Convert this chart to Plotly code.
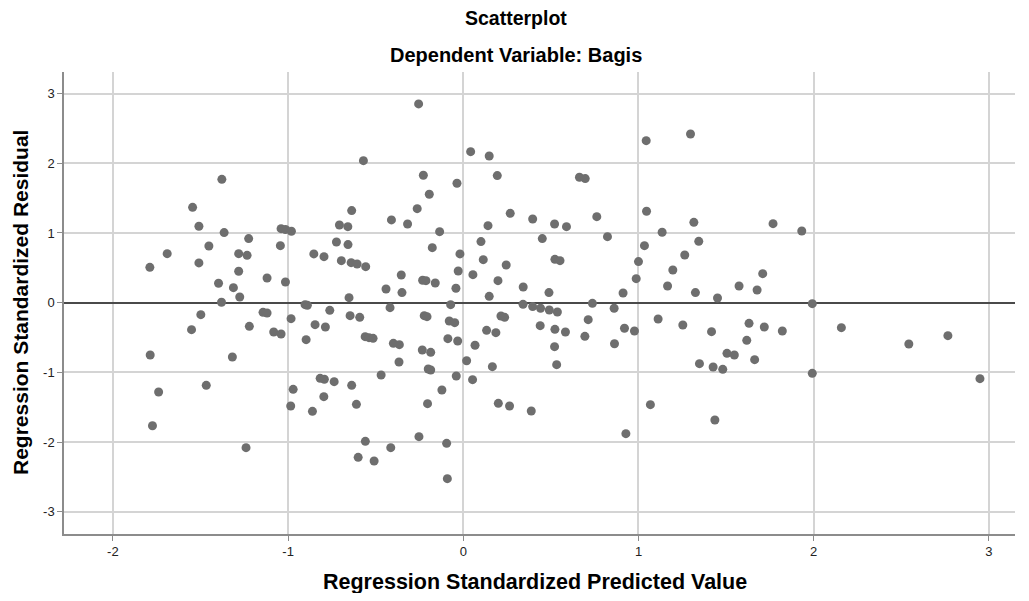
import plotly.graph_objects as go

title_text = "Scatterplot"
subtitle_text = "Dependent Variable: Bagis"
x_title = "Regression Standardized Predicted Value"
y_title = "Regression Standardized Residual"
x_ticks = [-2, -1, 0, 1, 2, 3]
y_ticks = [-3, -2, -1, 0, 1, 2, 3]

pred = [
    -1.378, -1.545, -1.509, -1.365, -1.452, -1.690, -1.789, -1.509, -1.397, -1.380,
    -1.498, -1.551, -1.787, -1.467, -1.739, -1.774,
    -0.570, -0.637, -0.410, -1.040, -1.015, -0.981, -0.707, -0.659, -1.225, -0.724,
    -0.658, -1.282, -1.234, -1.044, -0.853, -0.795, -0.696, -0.640, -0.606, -0.557,
    -1.282, -1.120, -1.015, -1.312, -0.441, -0.652, -1.276, -0.903, -0.890, -0.418,
    -1.143, -1.120, -0.983, -0.762, -0.646, -0.591, -1.221, -0.846, -0.787, -1.082,
    -1.040, -0.897, -0.560, -0.538, -0.515, -0.399, -1.318, -0.469, -0.817, -0.793,
    -0.737, -0.637, -0.971, -0.796, -0.985, -0.610, -0.861, -1.240, -0.559, -0.600,
    -0.509, -0.414,
    -0.255, 0.042, 0.148, -0.228, 0.194, -0.036, -0.194, -0.263, 0.268, 0.396,
    0.521, -0.318, 0.141, -0.135, 0.451, 0.101, -0.177, -0.019, 0.114, 0.245,
    0.523, 0.552, -0.354, -0.029, 0.055, -0.232, -0.213, -0.160, 0.198, 0.342,
    0.489, -0.350, -0.042, 0.148, -0.072, 0.341, 0.396, 0.441, 0.491, 0.537,
    -0.223, -0.207, -0.080, -0.049, 0.215, 0.236, 0.439, 0.523, 0.133, 0.186,
    -0.088, -0.032, -0.365, -0.234, -0.186, 0.067, 0.521, -0.367, 0.019, -0.200,
    -0.186, 0.166, 0.533, -0.040, 0.053, -0.122, -0.204, 0.200, 0.264, 0.388,
    -0.253, -0.095, -0.091,
    1.297, 1.044, 0.663, 0.696, 0.762, 1.046, 1.316, 0.589, 0.823, 1.135,
    1.344, 1.034, 1.264, 1.000, 1.196, 0.987, 1.166, 0.912, 1.325, 1.451,
    0.737, 0.861, 0.713, 1.112, 1.253, 0.583, 0.920, 0.977, 1.417, 0.694,
    0.863, 1.348, 1.426, 1.481, 1.068, 1.436, 0.928,
    1.768, 1.932, 1.709, 1.574, 1.677, 1.992, 1.631, 1.718, 1.821, 2.158,
    1.618, 1.505, 1.547, 1.663, 1.992,
    2.543, 2.766, 2.949,
]

resid = [
    1.770, 1.368, 1.096, 1.005, 0.813, 0.703, 0.507, 0.570, 0.278, 0.005,
    -0.172, -0.388, -0.751, -1.187, -1.282, -1.766,
    2.038, 1.321, 1.187, 1.062, 1.050, 1.024, 1.115, 1.091, 0.919, 0.871,
    0.833, 0.703, 0.679, 0.818, 0.699, 0.660, 0.603, 0.574, 0.555, 0.517,
    0.450, 0.354, 0.297, 0.215, 0.196, 0.072, 0.081, -0.029, -0.038, -0.072,
    -0.139, -0.148, -0.230, -0.110, -0.187, -0.211, -0.340, -0.316, -0.349, -0.421,
    -0.450, -0.531, -0.488, -0.502, -0.512, -0.584, -0.780, -1.038, -1.086, -1.100,
    -1.134, -1.187, -1.244, -1.349, -1.483, -1.459, -1.560, -2.081, -1.990, -2.220,
    -2.273, -2.081,
    2.852, 2.167, 2.105, 1.828, 1.823, 1.713, 1.555, 1.349, 1.282, 1.201,
    1.129, 1.129, 1.105, 1.019, 0.919, 0.876, 0.789, 0.699, 0.617, 0.541,
    0.622, 0.603, 0.397, 0.455, 0.402, 0.321, 0.316, 0.282, 0.316, 0.225,
    0.144, 0.144, 0.206, 0.091, -0.029, -0.024, -0.057, -0.081, -0.105, -0.134,
    -0.187, -0.201, -0.263, -0.287, -0.191, -0.211, -0.330, -0.383, -0.397, -0.431,
    -0.517, -0.550, -0.603, -0.679, -0.713, -0.612, -0.632, -0.852, -0.833, -0.952,
    -0.967, -0.919, -0.890, -1.053, -1.105, -1.254, -1.450, -1.445, -1.483, -1.555,
    -1.923, -2.019, -2.526,
    2.421, 2.325, 1.799, 1.780, 1.234, 1.311, 1.153, 1.091, 0.947, 1.010,
    0.880, 0.818, 0.684, 0.589, 0.469, 0.344, 0.239, 0.139, 0.144, 0.067,
    -0.010, -0.081, -0.244, -0.234, -0.321, -0.421, -0.368, -0.407, -0.416, -0.483,
    -0.589, -0.876, -0.923, -0.957, -1.464, -1.684, -1.880,
    1.134, 1.029, 0.416, 0.239, 0.182, -0.014, -0.297, -0.349, -0.407, -0.359,
    -0.541, -0.727, -0.751, -0.818, -1.014,
    -0.593, -0.474, -1.091,
]

FONT = "Liberation Sans, Arial, sans-serif"

fig = go.Figure()
fig.add_trace(go.Scatter(
    x=pred, y=resid, mode="markers",
    marker=dict(size=9, color="#6e6e6e", line=dict(width=0)),
    hoverinfo="x+y", showlegend=False,
))

# page body has an 8px margin, so the figure is 16px smaller and margins shifted
fig.update_layout(
    width=1013, height=585,
    margin=dict(l=56, r=6, t=64, b=59),
    paper_bgcolor="white", plot_bgcolor="white",
    font=dict(family=FONT, color="#000000"),
    annotations=[
        dict(text="<b>%s</b>" % title_text, xref="paper", yref="paper",
             x=0.475, y=1, yshift=54, showarrow=False,
             font=dict(size=19.5, family=FONT, color="#000"), xanchor="center", yanchor="middle"),
        dict(text="<b>%s</b>" % subtitle_text, xref="paper", yref="paper",
             x=0.475, y=1, yshift=17, showarrow=False,
             font=dict(size=20, family=FONT, color="#000"), xanchor="center", yanchor="middle"),
        dict(text="<b>%s</b>" % x_title, xref="paper", yref="paper",
             x=0.495, y=0, yshift=-48, showarrow=False,
             font=dict(size=21.5, family=FONT, color="#000"), xanchor="center", yanchor="middle"),
        dict(text="<b>%s</b>" % y_title, xref="paper", yref="paper",
             x=0, y=0.5, xshift=-44, showarrow=False, textangle=-90,
             font=dict(size=21, family=FONT, color="#000"), xanchor="center", yanchor="middle"),
    ],
)

fig.update_xaxes(
    range=[-2.279, 3.149], tickvals=x_ticks, ticktext=[str(v) for v in x_ticks],
    automargin=False,
    showgrid=True, gridcolor="#d4d4d4", gridwidth=1.5, zeroline=False,
    showline=True, linecolor="#8c8c8c", linewidth=1.5, mirror=False,
    ticks="outside", ticklen=5, tickcolor="#8c8c8c",
    tickfont=dict(size=13, family=FONT, color="#222"),
)
fig.update_yaxes(
    range=[-3.32, 3.31], tickvals=y_ticks, ticktext=[str(v) for v in y_ticks],
    automargin=False,
    showgrid=True, gridcolor="#d4d4d4", gridwidth=1.5,
    zeroline=True, zerolinecolor="#4a4a4a", zerolinewidth=1.5,
    showline=True, linecolor="#8c8c8c", linewidth=1.5, mirror=False,
    ticks="outside", ticklen=5, tickcolor="#8c8c8c",
    tickfont=dict(size=13, family=FONT, color="#222"),
)

fig.write_html("out.html")
